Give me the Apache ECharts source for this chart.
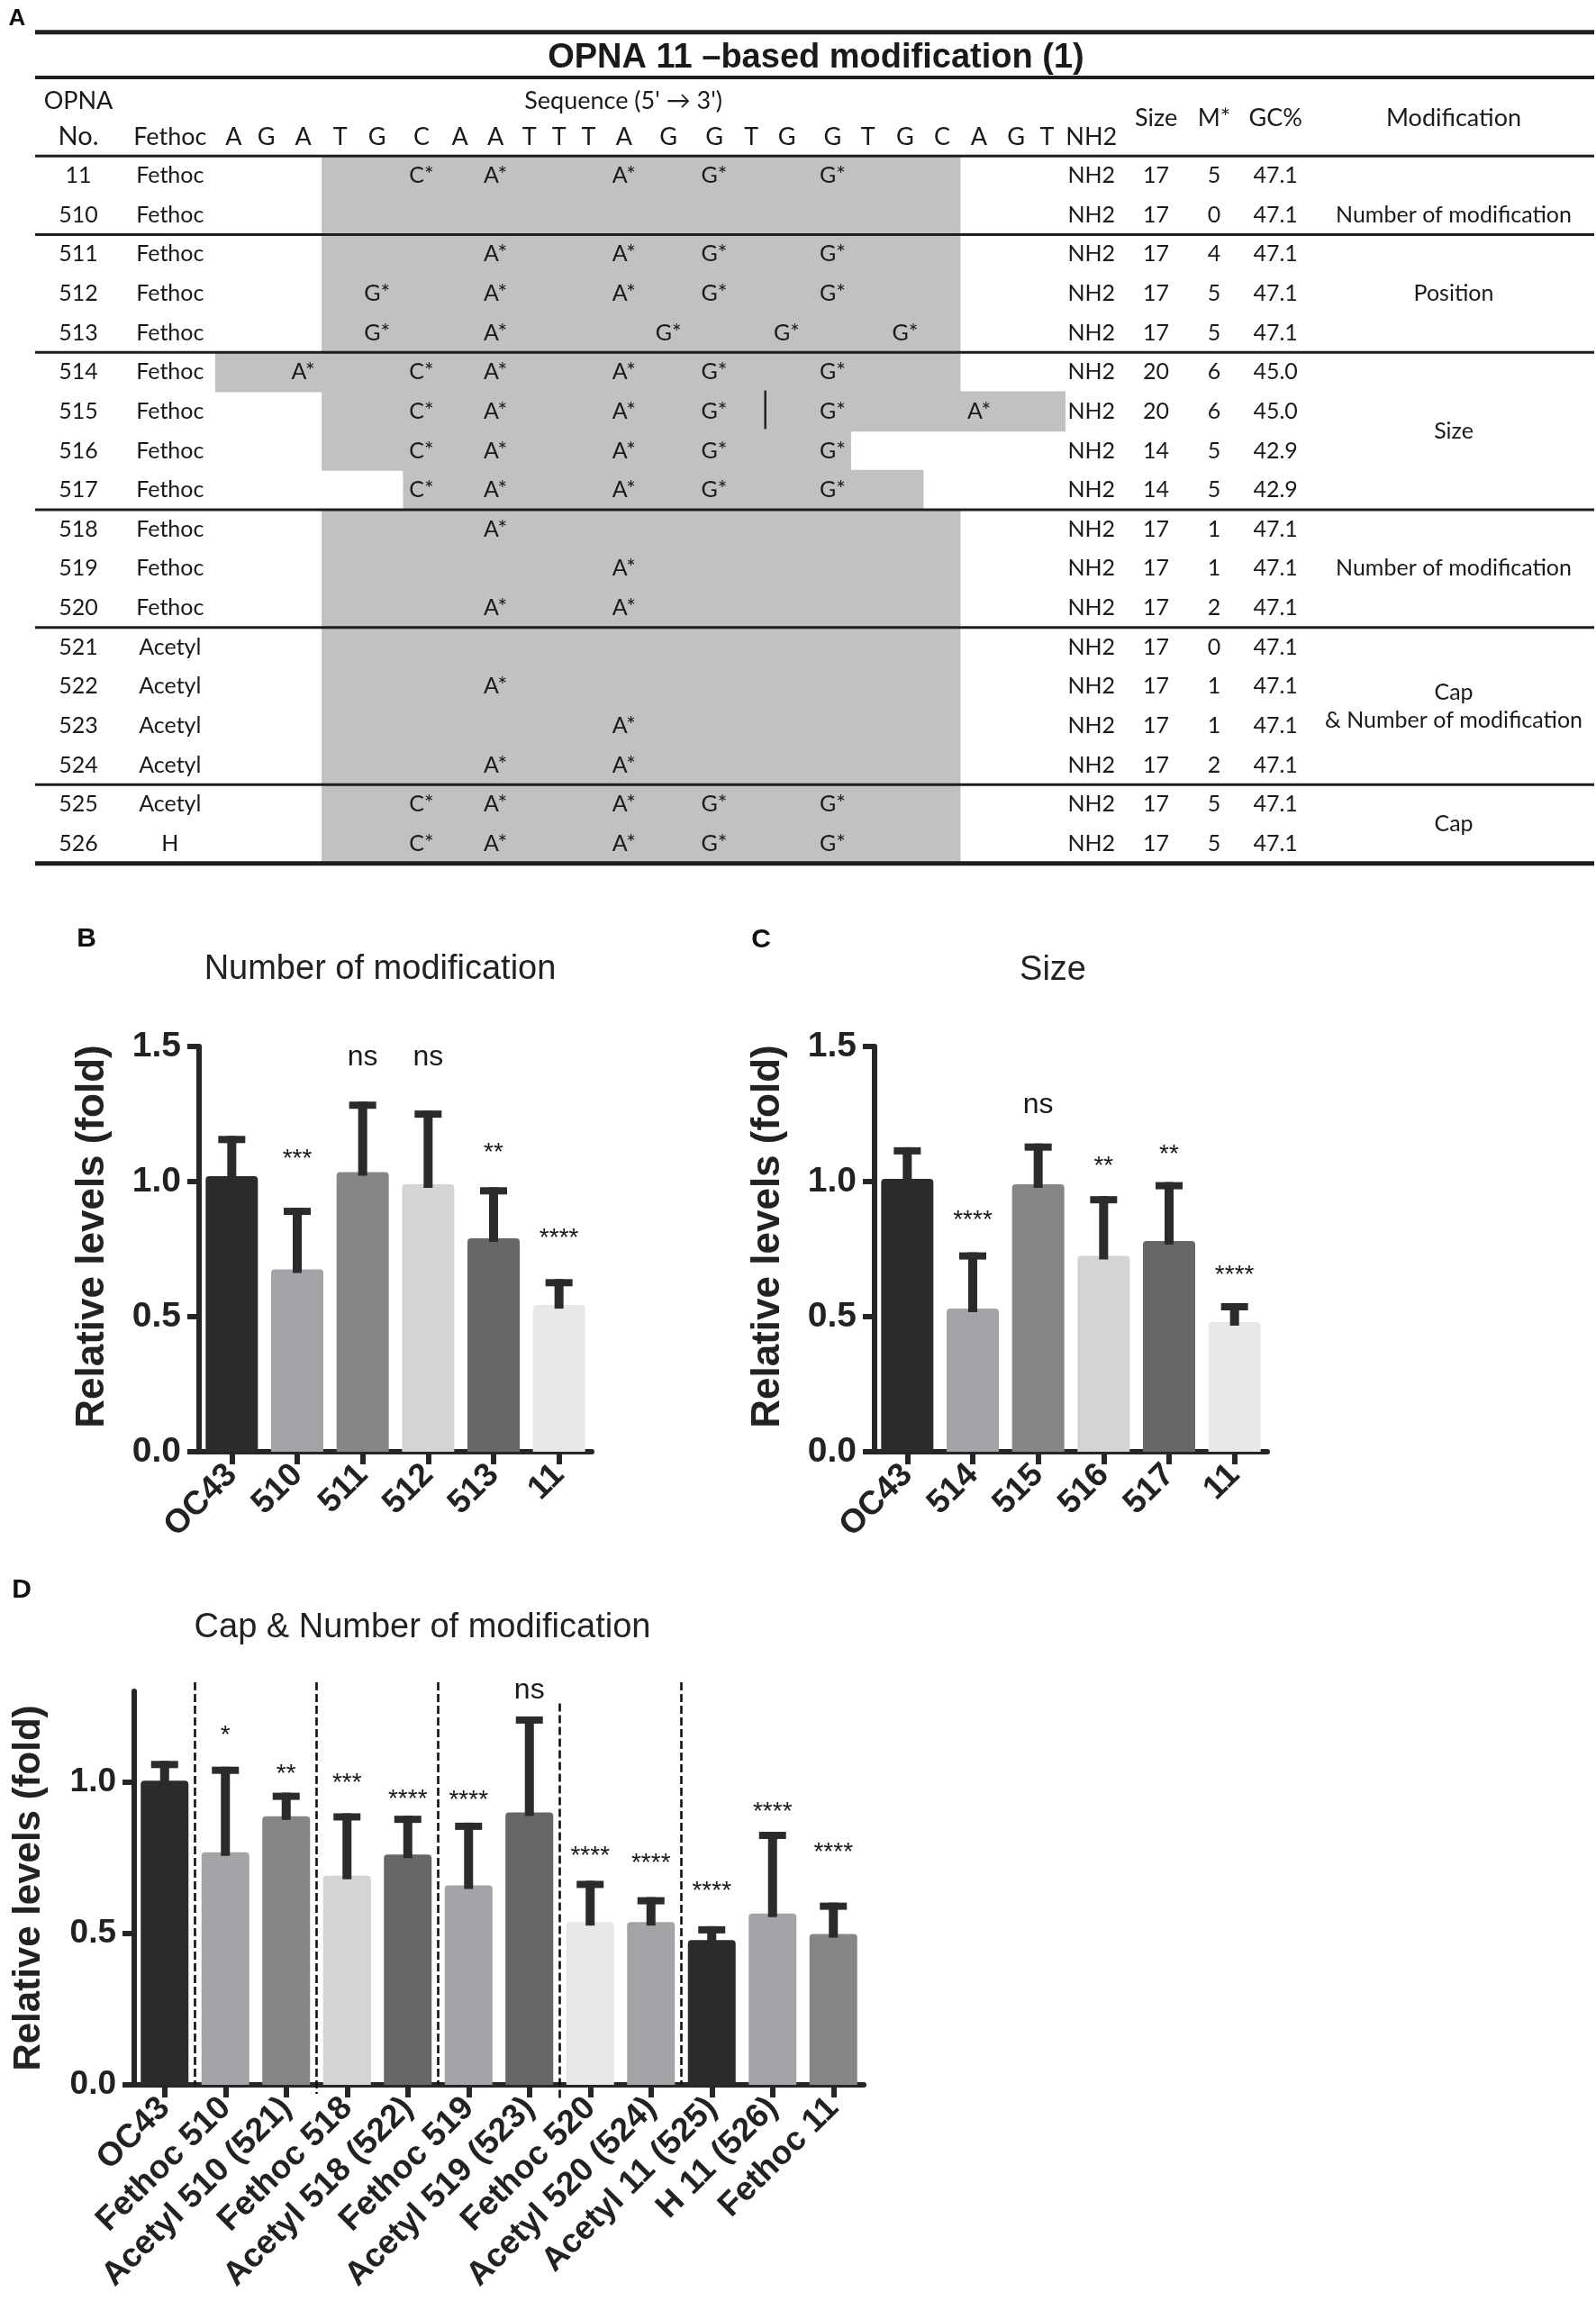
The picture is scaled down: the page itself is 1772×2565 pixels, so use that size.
<!DOCTYPE html>
<html><head><meta charset="utf-8">
<script src="https://cdn.jsdelivr.net/npm/echarts@6/dist/echarts.min.js"></script>
<style>html,body{margin:0;padding:0;background:#fff}#c{width:1772px;height:2565px}</style>
</head><body><div id="c"></div>
<script>
// ================= DATA =================
// Panel A table
const seqLetters = ['A','G','A','T','G','C','A','A','T','T','T','A','G','G','T','G','G','T','G','C','A','G','T'];
const opnaNo   = ['11','510','511','512','513','514','515','516','517','518','519','520','521','522','523','524','525','526'];
const capGroup = ['Fethoc','Fethoc','Fethoc','Fethoc','Fethoc','Fethoc','Fethoc','Fethoc','Fethoc','Fethoc','Fethoc','Fethoc','Acetyl','Acetyl','Acetyl','Acetyl','Acetyl','H'];
const seqStart = [4,4,4,4,4,1,4,4,6,4,4,4,4,4,4,4,4,4];
const seqEnd   = [20,20,20,20,20,20,23,17,19,20,20,20,20,20,20,20,20,20];
const modPos = [
  [6,8,12,14,17], [], [8,12,14,17], [5,8,12,14,17], [5,8,13,16,19],
  [3,6,8,12,14,17], [6,8,12,14,17,21], [6,8,12,14,17], [6,8,12,14,17],
  [8], [12], [8,12], [], [8], [12], [8,12], [6,8,12,14,17], [6,8,12,14,17]
];
const endGroup = ['NH2','NH2','NH2','NH2','NH2','NH2','NH2','NH2','NH2','NH2','NH2','NH2','NH2','NH2','NH2','NH2','NH2','NH2'];
const sizeNt   = [17,17,17,17,17,20,20,14,14,17,17,17,17,17,17,17,17,17];
const modCount = [5,0,4,5,5,6,6,5,5,1,1,2,0,1,1,2,5,5];
const gcPct    = ['47.1','47.1','47.1','47.1','47.1','45.0','45.0','42.9','42.9','47.1','47.1','47.1','47.1','47.1','47.1','47.1','47.1','47.1'];
const modGroupLabel = ['Number of modification','Position','Size','Number of modification','Cap\n& Number of modification','Cap'];
const modGroupFrom  = [1,2,5,9,12,16];
const modGroupTo    = [1,4,8,11,15,17];
const groupBreaks   = [1,4,8,11,15];
const strokeRow = 6, strokeAfter = 15;   // the small vertical stroke in row 515 (between T15 and G16)
const tableTitle = 'OPNA 11 \u2013based modification (1)';

// Panel B
const catB  = ['OC43','510','511','512','513','11'];
const meanB = [1.02, 0.675, 1.035, 0.99, 0.79, 0.543];
const sdB   = [0.149, 0.228, 0.261, 0.273, 0.189, 0.096];
const sigB  = ['', '***', 'ns', 'ns', '**', '****'];
const sigYB = [null, 1.105, 1.452, 1.452, 1.128, 0.812];

// Panel C
const catC  = ['OC43','514','515','516','517','11'];
const meanC = [1.01, 0.53, 0.99, 0.725, 0.78, 0.48];
const sdC   = [0.117, 0.208, 0.151, 0.221, 0.218, 0.07];
const sigC  = ['', '****', 'ns', '**', '**', '****'];
const sigYC = [null, 0.878, 1.277, 1.076, 1.121, 0.673];

// Panel D
const catD  = ['OC43','Fethoc 510','Acetyl 510 (521)','Fethoc 518','Acetyl 518 (522)','Fethoc 519','Acetyl 519 (523)','Fethoc 520','Acetyl 520 (524)','Acetyl 11 (525)','H 11 (526)','Fethoc 11'];
const meanD = [1.005, 0.768, 0.887, 0.691, 0.761, 0.659, 0.90, 0.538, 0.538, 0.478, 0.566, 0.498];
const sdD   = [0.065, 0.283, 0.078, 0.206, 0.128, 0.207, 0.317, 0.136, 0.082, 0.046, 0.27, 0.104];
const sigD  = ['', '*', '**', '***', '****', '****', 'ns', '****', '****', '****', '****', '****'];
const sigYD = [null, 1.174, 1.045, 1.015, 0.962, 0.958, 1.297, 0.773, 0.751, 0.659, 0.921, 0.785];
const dividerAfter  = [0, 2, 4, 6, 8];
const dividerTop    = [1.33, 1.33, 1.33, 1.26, 1.33];
const dividerBottom = [0, -0.03, 0, -0.05, 0];

// ================= STYLE / LAYOUT =================
const INK = '#262626';
const barColorsB = ['#2b2b2b','#a3a3a8','#858787','#d4d4d4','#666766','#e8e8e8'];
const barColorsC = ['#2b2b2b','#a3a3a8','#858787','#d4d4d4','#666766','#e8e8e8'];
const barColorsD = ['#2b2b2b','#a3a3a8','#858787','#d4d4d4','#666766','#a3a3a8','#666766','#e8e8e8','#a3a3a8','#2b2b2b','#a3a3a8','#858787'];
const FF = '"Liberation Sans", Arial, sans-serif';
const TF = 'Lato, "Open Sans", sans-serif';
// column centres of the sequence letters on the table's x axis (layout)
const seqColX = [1.0,1.88,2.88,3.88,4.88,6.08,7.12,8.08,9.0,9.8,10.6,11.56,12.76,14.0,15.0,15.96,17.2,18.16,19.16,20.16,21.16,22.16,23.0];
const col = {no:-3.2, cap:-0.72, nh2:24.2, size:25.95, m:27.52, gc:29.18, modi:34.0, seqHead:11.54, title:16.75};
const hdr = {row1:-1.9, row2:-0.99, mid:-1.45, title:-3.0};
const fonts = {
  cell: '25px ' + TF,
  head: '27px ' + TF,
  no:   '29px ' + TF,
  title:'bold 38px ' + FF
};
const T = {left:39, top:3, width:1731, height:960, xMin:-4.37, xMax:37.8, yMin:-4.4, yMax:17.6};

// ---- build table text items from data ----
const tItems = [];
function addT(x, y, text, f){ tItems.push({x, y, text: String(text), f}); }
addT(col.title, hdr.title, tableTitle, 'title');
addT(col.no, hdr.row1, 'OPNA', 'head');
addT(col.no, hdr.row2, 'No.', 'no');
addT(col.cap, hdr.row2, 'Fethoc', 'head');
seqLetters.forEach((L, k) => addT(seqColX[k], hdr.row2, L, 'head'));
addT(col.nh2, hdr.row2, 'NH2', 'head');
addT(col.seqHead, hdr.row1, 'Sequence (5\' \u2192 3\')', 'head');
addT(col.size, hdr.mid, 'Size', 'head');
addT(col.m, hdr.mid, 'M*', 'head');
addT(col.gc, hdr.mid, 'GC%', 'head');
addT(col.modi, hdr.mid, 'Modification', 'head');
opnaNo.forEach((no, i) => {
  addT(col.no, i, no, 'cell');
  addT(col.cap, i, capGroup[i], 'cell');
  modPos[i].forEach(p => addT(seqColX[p - 1], i, seqLetters[p - 1] + '*', 'cell'));
  addT(col.nh2, i, endGroup[i], 'cell');
  addT(col.size, i, sizeNt[i], 'cell');
  addT(col.m, i, modCount[i], 'cell');
  addT(col.gc, i, gcPct[i], 'cell');
});
modGroupLabel.forEach((g, k) => addT(col.modi, (modGroupFrom[k] + modGroupTo[k]) / 2, g, 'cell'));

const rules = [{y:-3.65, w:5}, {y:-2.5, w:4}, {y:-0.5, w:3}]
  .concat(groupBreaks.map(b => ({y: b + 0.5, w: 3})))
  .concat([{y: opnaNo.length - 0.5, w: 5}]);

// ================= CHART =================
const chart = echarts.init(document.getElementById('c'), null, {renderer:'canvas', width:1772, height:2565});

const grids = [
  {left:T.left, top:T.top, width:T.width, height:T.height},
  {left:221, top:1162, width:436, height:450},
  {left:971, top:1162, width:436, height:450},
  {left:149, top:1878, width:810, height:437}
].map(g => Object.assign({outerBoundsMode:'none', containLabel:false}, g));

function xCat(gi, cats, fs){
  return {type:'category', gridIndex:gi, data:cats,
    axisLine:{show:true, lineStyle:{color:INK, width:6}},
    axisTick:{show:true, alignWithLabel:true, length:14, lineStyle:{color:INK, width:6}},
    axisLabel:{rotate:45, interval:0, fontSize:fs, fontWeight:'bold', color:'#222', fontFamily:FF, margin:20},
    splitLine:{show:false}};
}
function yVal(gi, max, ticks, lfs, nfs, nshift){
  return {type:'value', gridIndex:gi, min:0, max:max, interval:0.5,
    axisLine:{show:true, lineStyle:{color:INK, width:6}},
    axisTick:{show:true, length:13, lineStyle:{color:INK, width:6}, customValues:ticks},
    axisLabel:{fontSize:lfs, fontWeight:'bold', color:'#222', fontFamily:FF, margin:20,
      formatter:v => v.toFixed(1), customValues:ticks},
    splitLine:{show:false},
    name:'Relative levels (fold)', nameLocation:'middle', nameGap:96, nameMoveOverlap:false,
    nameTextStyle:{fontSize:nfs, fontWeight:'bold', color:'#222', fontFamily:FF, padding:[0,0,0,nshift]}};
}

const xAxes = [
  {type:'value', gridIndex:0, min:T.xMin, max:T.xMax, show:false},
  xCat(1, catB, 37), xCat(2, catC, 37), xCat(3, catD, 37)
];
const yAxes = [
  {type:'value', gridIndex:0, min:T.yMin, max:T.yMax, inverse:true, show:false},
  yVal(1, 1.5, [0,0.5,1,1.5], 39, 44, 28), yVal(2, 1.5, [0,0.5,1,1.5], 39, 44, 28), yVal(3, 1.3, [0,0.5,1], 37, 42, 0)
];

const series = [];
// ---- table shading ----
series.push({type:'custom', xAxisIndex:0, yAxisIndex:0, silent:true, z:1,
  data: opnaNo.map((n,i) => [seqColX[seqStart[i]-1], seqColX[seqEnd[i]-1], i]),
  renderItem:(p, api) => {
    const a = api.coord([api.value(0) - 0.5, api.value(2) - 0.5]);
    const b = api.coord([api.value(1) + 0.5, api.value(2) + 0.5]);
    return {type:'rect', shape:{x:a[0], y:a[1] - 0.5, width:b[0]-a[0], height:b[1]-a[1] + 1}, style:{fill:'#c1c1c1'}};
  }});
// ---- table rules ----
series.push({type:'custom', xAxisIndex:0, yAxisIndex:0, silent:true, z:3,
  data: rules.map(r => [T.xMin, r.y, r.w]),
  renderItem:(p, api) => {
    const a = api.coord([T.xMin, api.value(1)]);
    const b = api.coord([T.xMax, api.value(1)]);
    return {type:'line', shape:{x1:a[0], y1:a[1], x2:b[0], y2:b[1]}, style:{stroke:'#1e1e1e', lineWidth:api.value(2)}};
  }});
// ---- stroke in row 515 ----
series.push({type:'custom', xAxisIndex:0, yAxisIndex:0, silent:true, z:3,
  data: [[(seqColX[strokeAfter-1] + seqColX[strokeAfter]) / 2 - 0.1, strokeRow]],
  renderItem:(p, api) => {
    const a = api.coord([api.value(0), api.value(1) - 0.53]);
    const b = api.coord([api.value(0), api.value(1) + 0.45]);
    return {type:'line', shape:{x1:a[0], y1:a[1], x2:b[0], y2:b[1]}, style:{stroke:'#222', lineWidth:2.5}};
  }});
// ---- table text ----
series.push({type:'custom', xAxisIndex:0, yAxisIndex:0, silent:true, z:4,
  data: tItems.map((t,k) => [t.x, t.y, k]),
  renderItem:(p, api) => {
    const it = tItems[p.dataIndex];
    const c = api.coord([api.value(0), api.value(1)]);
    return {type:'text', x:c[0], y:c[1], style:{text:it.text, font:fonts[it.f], fill:'#1a1a1a',
      align:'center', verticalAlign:'middle', lineHeight:31}};
  }});

// ---- bar panels ----
function addPanel(gi, cats, mean, sd, sig, sigY, colors, bw){
  series.push({type:'bar', xAxisIndex:gi, yAxisIndex:gi, barWidth:bw, z:2, silent:true,
    data: mean.map((v,i) => ({value:v, itemStyle:{color:colors[i], borderRadius:[4,4,0,0]}}))});
  series.push({type:'custom', xAxisIndex:gi, yAxisIndex:gi, z:3, silent:true,
    data: mean.map((v,i) => [i, v, v + sd[i]]),
    renderItem:(p, api) => {
      const a = api.coord([api.value(0), api.value(1)]);
      const b = api.coord([api.value(0), api.value(2)]);
      return {type:'group', children:[
        {type:'rect', shape:{x:a[0]-5, y:b[1], width:10, height:a[1]-b[1]+4}, style:{fill:'#2b2b2b'}},
        {type:'rect', shape:{x:a[0]-15, y:b[1], width:30, height:8}, style:{fill:'#2b2b2b'}}
      ]};
    }});
  series.push({type:'custom', xAxisIndex:gi, yAxisIndex:gi, z:4, silent:true,
    data: sig.map((s,i) => [i, sigY[i] == null ? 0 : sigY[i]]),
    renderItem:(p, api) => {
      const s = sig[p.dataIndex];
      if (!s) return null;
      const c = api.coord([api.value(0), api.value(1)]);
      const star = s.indexOf('*') >= 0;
      return {type:'text', x:c[0], y:c[1] + (star ? 6.5 : -2),
        style:{text:s, font:(star ? '28px ' : '32px ') + FF, fill:'#1a1a1a', align:'center', verticalAlign:'middle'}};
    }});
}
addPanel(1, catB, meanB, sdB, sigB, sigYB, barColorsB, 58);
addPanel(2, catC, meanC, sdC, sigC, sigYC, barColorsC, 58);
addPanel(3, catD, meanD, sdD, sigD, sigYD, barColorsD, 53);

// ---- dashed group dividers in D ----
series.push({type:'custom', xAxisIndex:3, yAxisIndex:3, z:5, silent:true, clip:false,
  data: dividerAfter.map((d,k) => [d, dividerTop[k], dividerBottom[k]]),
  renderItem:(p, api) => {
    const i = api.value(0);
    const a = api.coord([i, api.value(1)]);
    const a2 = api.coord([i + 1, api.value(1)]);
    const b = api.coord([i, api.value(2)]);
    const x = (a[0] + a2[0]) / 2;
    return {type:'line', shape:{x1:x, y1:a[1], x2:x, y2:b[1]}, style:{stroke:'#111', lineWidth:2.6, lineDash:[9,4]}};
  }});

const graphic = [
  {type:'text', x:19, y:21, style:{text:'A', font:'bold 26px ' + FF, fill:'#111', align:'center', verticalAlign:'middle'}},
  {type:'text', x:96, y:1043, style:{text:'B', font:'bold 30px ' + FF, fill:'#111', align:'center', verticalAlign:'middle'}},
  {type:'text', x:845, y:1044, style:{text:'C', font:'bold 30px ' + FF, fill:'#111', align:'center', verticalAlign:'middle'}},
  {type:'text', x:24, y:1766, style:{text:'D', font:'bold 30px ' + FF, fill:'#111', align:'center', verticalAlign:'middle'}},
  {type:'text', x:422, y:1077, style:{text:'Number of modification', font:'38px ' + FF, fill:'#222', align:'center', verticalAlign:'middle'}},
  {type:'text', x:1169, y:1078, style:{text:'Size', font:'38px ' + FF, fill:'#222', align:'center', verticalAlign:'middle'}},
  {type:'text', x:469, y:1808, style:{text:'Cap & Number of modification', font:'38px ' + FF, fill:'#222', align:'center', verticalAlign:'middle'}}
];

chart.setOption({
  backgroundColor:'#ffffff',
  animation:false,
  grid:grids,
  xAxis:xAxes,
  yAxis:yAxes,
  series:series,
  graphic:graphic
});
</script>
</body></html>
